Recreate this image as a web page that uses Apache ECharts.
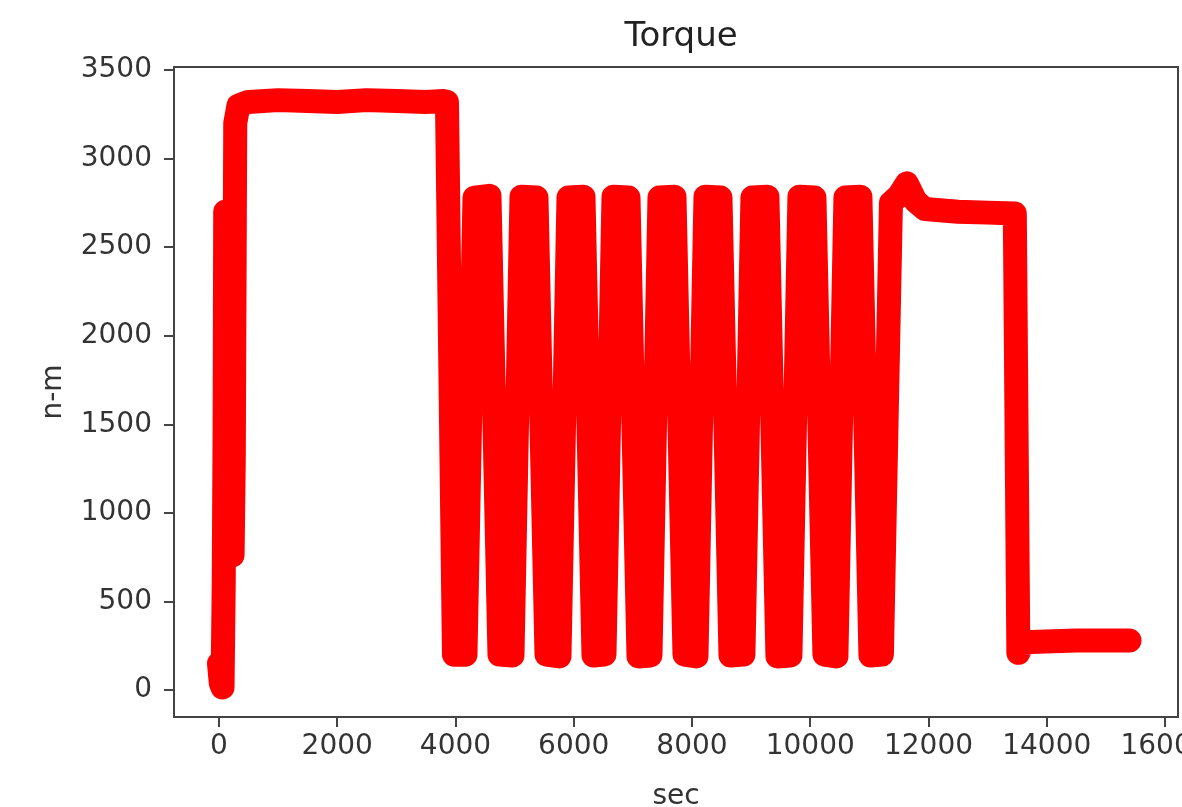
<!DOCTYPE html>
<html>
<head>
<meta charset="utf-8">
<script src="https://cdn.jsdelivr.net/npm/echarts@6.0.0/dist/echarts.min.js"></script>
<style>
html,body{margin:0;padding:0;background:#fff;}
#chart{width:1182px;height:807px;}
</style>
</head>
<body>
<div id="chart"></div>
<script>
// Time (sec) and torque (n-m)
var timeSec = [0, 30, 60, 80, 95, 105, 130, 170, 230, 250, 275, 330, 500, 1000, 1500, 2000, 2500, 3000, 3500, 3800, 3856, 3974,
  4169, 4321, 4575, 4744,
  4964, 5116, 5370, 5539,
  5759, 5911, 6165, 6334,
  6520, 6672, 6926, 7095,
  7298, 7450, 7704, 7873,
  8076, 8228, 8482, 8651,
  8870, 9022, 9276, 9445,
  9665, 9817, 10071, 10240,
  10443, 10595, 10849, 11018,
  11212, 11365, 11500, 11634, 11780, 11940, 12500, 13000, 13460, 13520, 13600, 14500, 15400];
var torque = [150, 40, 15, 600, 1500, 2700, 2620, 820, 760, 1300, 3200, 3300, 3320, 3330, 3325, 3320, 3330, 3325, 3320, 3325, 3320, 200,
  200, 2780, 2790, 200,
  195, 2785, 2780, 200,
  190, 2780, 2785, 195,
  200, 2785, 2780, 190,
  195, 2780, 2785, 200,
  190, 2785, 2780, 195,
  200, 2780, 2785, 190,
  195, 2785, 2780, 200,
  190, 2780, 2785, 195,
  200, 2750, 2790, 2860, 2760, 2715, 2700, 2695, 2690, 210, 270, 280, 280];
var xTicks = [0, 2000, 4000, 6000, 8000, 10000, 12000, 14000, 16000];
var yTicks = [0, 500, 1000, 1500, 2000, 2500, 3000, 3500];

var data = timeSec.map(function (t, i) { return [t, torque[i]]; });
var FONT = 'DejaVu Sans';
var axisColor = '#444';

var chart = echarts.init(document.getElementById('chart'), null, {renderer: 'canvas'});
chart.setOption({
  animation: false,
  backgroundColor: '#ffffff',
  title: {
    text: 'Torque',
    left: 676,
    top: 15,
    textAlign: 'center',
    textStyle: {fontFamily: FONT, fontSize: 34, fontWeight: 'normal', color: '#222'}
  },
  grid: {
    left: 174, top: 67, width: 1004, height: 650,
    show: true, borderColor: axisColor, borderWidth: 2, backgroundColor: 'transparent',
    containLabel: false,
    outerBoundsMode: 'none'
  },
  xAxis: {
    type: 'value', min: -761, max: 16220,
    name: 'sec', nameLocation: 'middle', nameGap: 80,
    nameTextStyle: {fontFamily: FONT, fontSize: 28, color: '#333', verticalAlign: 'middle'},
    axisLine: {show: true, onZero: false, lineStyle: {color: axisColor, width: 2}},
    axisTick: {show: true, inside: false, length: 10, customValues: xTicks, lineStyle: {color: axisColor, width: 2}},
    axisLabel: {customValues: xTicks, margin: 16, fontFamily: FONT, fontSize: 28, color: '#333',
      hideOverlap: false, formatter: function (v) { return String(v); }},
    splitLine: {show: false}
  },
  yAxis: {
    type: 'value', min: -152, max: 3517,
    name: 'n-m', nameLocation: 'middle', nameGap: 120,
    nameTextStyle: {fontFamily: FONT, fontSize: 28, color: '#333', verticalAlign: 'middle'},
    axisLine: {show: true, onZero: false, lineStyle: {color: axisColor, width: 2}},
    axisTick: {show: true, inside: false, length: 10, customValues: yTicks, lineStyle: {color: axisColor, width: 2}},
    axisLabel: {customValues: yTicks, margin: 22, fontFamily: FONT, fontSize: 28, color: '#333',
      formatter: function (v) { return String(v); }},
    splitLine: {show: false}
  },
  series: [{
    type: 'line',
    data: data,
    showSymbol: false,
    symbol: 'none',
    smooth: false,
    lineStyle: {color: '#ff0000', width: 24, cap: 'round', join: 'round'},
    itemStyle: {color: '#ff0000'}
  }]
});
</script>
</body>
</html>
